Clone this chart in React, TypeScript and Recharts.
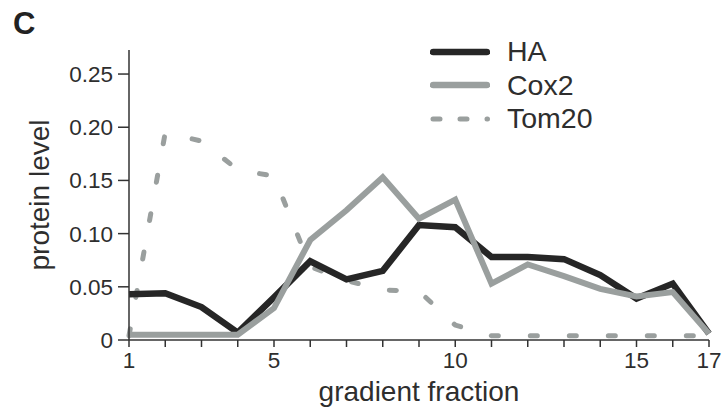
import React from 'react';
import { LineChart, Line, XAxis, YAxis, Label } from 'recharts';

const fractions = [1, 2, 3, 4, 5, 6, 7, 8, 9, 10, 11, 12, 13, 14, 15, 16, 17];
const haLevels = [0.043, 0.044, 0.031, 0.007, 0.04, 0.074, 0.057, 0.065, 0.108, 0.106, 0.078, 0.078, 0.076, 0.061, 0.039, 0.053, 0.006];
const cox2Levels = [0.005, 0.005, 0.005, 0.005, 0.03, 0.094, 0.122, 0.153, 0.114, 0.132, 0.053, 0.071, 0.06, 0.048, 0.041, 0.045, 0.006];
const tom20Levels = [0.004, 0.195, 0.187, 0.16, 0.154, 0.069, 0.056, 0.047, 0.046, 0.014, 0.004, 0.004, 0.004, 0.004, 0.004, 0.004, 0.004];
const yTicks = [0, 0.05, 0.1, 0.15, 0.2, 0.25];
const xLabeledTicks = [1, 5, 10, 15, 17];
const seriesNames = ['HA', 'Cox2', 'Tom20'];

const data = fractions.map((f, i) => ({
  fraction: f,
  HA: haLevels[i],
  Cox2: cox2Levels[i],
  Tom20: tom20Levels[i],
}));

const FONT = '"Liberation Sans", Arial, Helvetica, sans-serif';
const TEXT = '#2e2e2e';
const AXIS = '#333333';
const DARK = '#262626';
const GRAY = '#9a9f9e';

const styles: Record<string, { stroke: string; width: number; dash?: string }> = {
  HA: { stroke: DARK, width: 6.5 },
  Cox2: { stroke: GRAY, width: 6 },
  Tom20: { stroke: GRAY, width: 5, dash: '7 20' },
};

export default function App() {
  return (
    <div style={{ position: 'absolute', left: 0, top: 0, width: 723, height: 410, background: '#fff', fontFamily: FONT }}>
      <LineChart width={723} height={410} data={data} margin={{ top: 50, right: 14, bottom: 0, left: 0 }}>
        <XAxis
          dataKey="fraction"
          type="number"
          domain={[1, 17]}
          ticks={fractions}
          interval={0}
          tickFormatter={(v: number) => (xLabeledTicks.includes(v) ? String(v) : '')}
          tickSize={7}
          tickMargin={5}
          height={70}
          axisLine={{ stroke: AXIS, strokeWidth: 1.5 }}
          tickLine={{ stroke: AXIS, strokeWidth: 1.5 }}
          tick={{ fill: TEXT, fontSize: 22.5, fontFamily: FONT }}
        >
          <Label value="gradient fraction" position="insideBottom" offset={9} style={{ fontSize: 28, fill: TEXT, fontFamily: FONT }} />
        </XAxis>
        <YAxis
          type="number"
          domain={[0, 0.2726]}
          ticks={yTicks}
          interval={0}
          width={129}
          tickSize={11}
          tickMargin={5}
          allowDataOverflow
          tickFormatter={(v: number) => (v === 0 ? '0' : v.toFixed(2))}
          axisLine={{ stroke: AXIS, strokeWidth: 1.5 }}
          tickLine={{ stroke: AXIS, strokeWidth: 1.5 }}
          tick={{ fill: TEXT, fontSize: 22.5, fontFamily: FONT }}
        >
          <Label value="protein level" angle={-90} position="center" dx={-25} style={{ fontSize: 28, fill: TEXT, fontFamily: FONT, textAnchor: 'middle' }} />
        </YAxis>
        <Line dataKey="Tom20" type="linear" stroke={styles.Tom20.stroke} strokeWidth={5} strokeDasharray="7 32" strokeLinecap="round" dot={false} activeDot={false} isAnimationActive={false} />
        <Line dataKey="HA" type="linear" stroke={styles.HA.stroke} strokeWidth={6.5} dot={false} activeDot={false} isAnimationActive={false} />
        <Line dataKey="Cox2" type="linear" stroke={styles.Cox2.stroke} strokeWidth={6} dot={false} activeDot={false} isAnimationActive={false} />
      </LineChart>
      <div style={{ position: 'absolute', left: 430, top: 35, display: 'flex', flexDirection: 'column' }}>
        {seriesNames.map((name) => {
          const s = styles[name];
          return (
            <div key={name} style={{ display: 'flex', alignItems: 'center', height: 33.5 }}>
              <svg width={60} height={10} style={{ display: 'block' }}>
                <line x1={3} y1={5} x2={s.dash ? 57.5 : 57} y2={5} stroke={s.stroke} strokeWidth={s.dash ? 5 : 6.5} strokeLinecap="round" strokeDasharray={s.dash} />
              </svg>
              <span style={{ marginLeft: 17, fontSize: 28.5, lineHeight: '33.5px', color: TEXT }}>{name}</span>
            </div>
          );
        })}
      </div>
      <div style={{ position: 'absolute', left: 13, top: 8, fontSize: 31, lineHeight: '31px', fontWeight: 'bold', color: '#222' }}>C</div>
    </div>
  );
}
